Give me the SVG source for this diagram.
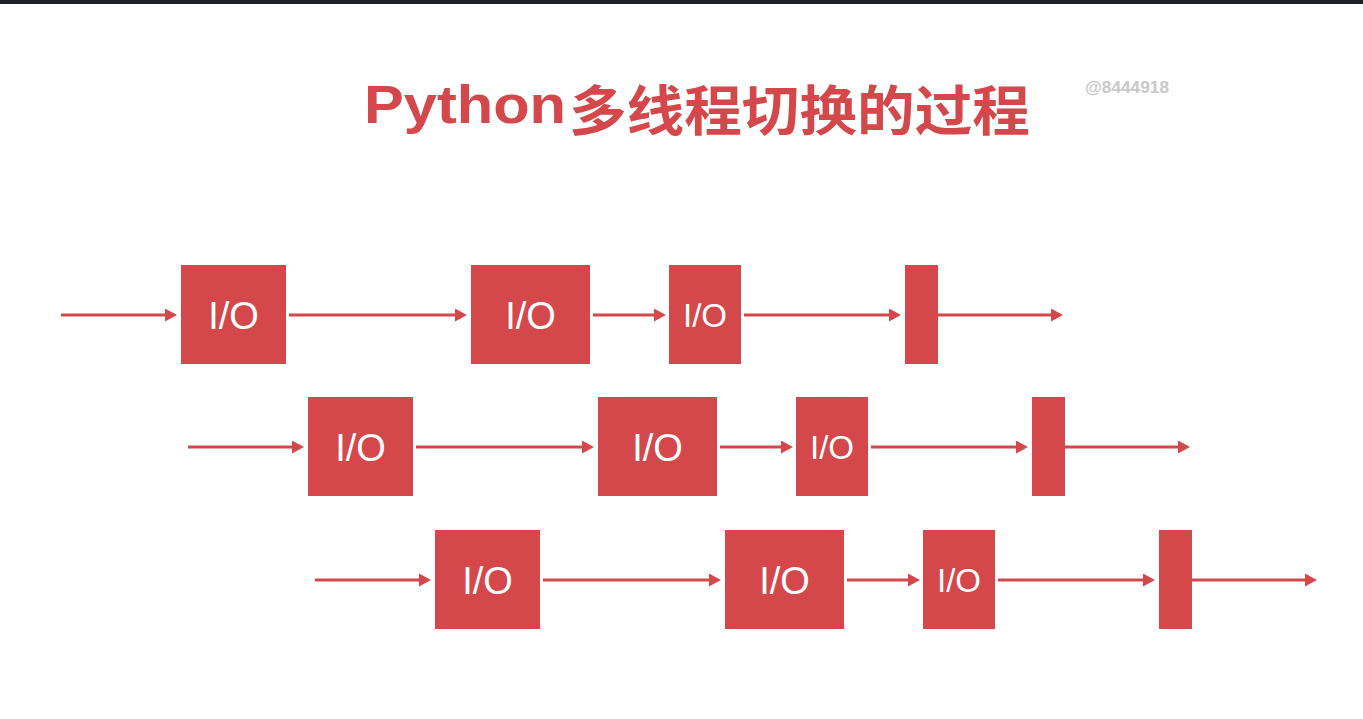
<svg xmlns="http://www.w3.org/2000/svg" width="1363" height="719" viewBox="0 0 1363 719">
  <defs>
    <style>
      .box { fill: #d4474a; }
      .lbl { fill: #ffffff; font-family: "Liberation Sans", Arial, sans-serif; font-size: 38px; text-anchor: middle; }
      .lbl-s { font-size: 33px; }
      .conn { stroke: #d4474a; stroke-width: 3; fill: none; marker-end: url(#arrow); }
      .title { fill: #d4474a; font-weight: bold; }
    </style>
    <marker id="arrow" markerUnits="userSpaceOnUse" markerWidth="13" markerHeight="14" refX="4" refY="6.5" orient="auto">
      <path d="M0,0 L12,6.5 L0,13 z" fill="#d4474a"/>
    </marker>
  </defs>
  <rect x="0" y="0" width="1363" height="719" fill="#ffffff"/>
  <rect x="0" y="0" width="1363" height="4" fill="#1f2023"/>

  <g id="title">
    <text class="title" x="364" y="123" font-family="'Liberation Sans', Arial, sans-serif" font-size="53" textLength="202" lengthAdjust="spacingAndGlyphs">Python</text>
    <text class="title" x="569" y="131" font-family="'Noto Sans CJK SC', sans-serif" font-size="54" textLength="461" lengthAdjust="spacingAndGlyphs">多线程切换的过程</text>
  </g>
  <text id="watermark" x="1085" y="93" fill="#c8c8c8" font-family="'Liberation Sans', Arial, sans-serif" font-weight="bold" font-size="16" textLength="84" lengthAdjust="spacingAndGlyphs">@8444918</text>

  <g id="connectors">
    <line class="conn" x1="61" y1="315" x2="169" y2="315"/>
    <line class="conn" x1="289" y1="315" x2="459" y2="315"/>
    <line class="conn" x1="593" y1="315" x2="658" y2="315"/>
    <line class="conn" x1="744" y1="315" x2="893" y2="315"/>
    <line class="conn" x1="938" y1="315" x2="1055" y2="315"/>

    <line class="conn" x1="188" y1="447" x2="296" y2="447"/>
    <line class="conn" x1="416" y1="447" x2="586" y2="447"/>
    <line class="conn" x1="720" y1="447" x2="785" y2="447"/>
    <line class="conn" x1="871" y1="447" x2="1020" y2="447"/>
    <line class="conn" x1="1065" y1="447" x2="1182" y2="447"/>

    <line class="conn" x1="315" y1="580" x2="423" y2="580"/>
    <line class="conn" x1="543" y1="580" x2="713" y2="580"/>
    <line class="conn" x1="847" y1="580" x2="912" y2="580"/>
    <line class="conn" x1="998" y1="580" x2="1147" y2="580"/>
    <line class="conn" x1="1192" y1="580" x2="1309" y2="580"/>
  </g>

  <g id="r1a"><rect class="box" x="181" y="265" width="105" height="99"/><text class="lbl" x="233.5" y="328.5">I/O</text></g>
  <g id="r1b"><rect class="box" x="471" y="265" width="119" height="99"/><text class="lbl" x="530.5" y="328.5">I/O</text></g>
  <g id="r1c"><rect class="box" x="669" y="265" width="72" height="99"/><text class="lbl lbl-s" x="705" y="327">I/O</text></g>
  <g id="r1d"><rect class="box" x="905" y="265" width="33" height="99"/></g>

  <g id="r2a"><rect class="box" x="308" y="397" width="105" height="99"/><text class="lbl" x="360.5" y="460.5">I/O</text></g>
  <g id="r2b"><rect class="box" x="598" y="397" width="119" height="99"/><text class="lbl" x="657.5" y="460.5">I/O</text></g>
  <g id="r2c"><rect class="box" x="796" y="397" width="72" height="99"/><text class="lbl lbl-s" x="832" y="459">I/O</text></g>
  <g id="r2d"><rect class="box" x="1032" y="397" width="33" height="99"/></g>

  <g id="r3a"><rect class="box" x="435" y="530" width="105" height="99"/><text class="lbl" x="487.5" y="593.5">I/O</text></g>
  <g id="r3b"><rect class="box" x="725" y="530" width="119" height="99"/><text class="lbl" x="784.5" y="593.5">I/O</text></g>
  <g id="r3c"><rect class="box" x="923" y="530" width="72" height="99"/><text class="lbl lbl-s" x="959" y="592">I/O</text></g>
  <g id="r3d"><rect class="box" x="1159" y="530" width="33" height="99"/></g>
</svg>
